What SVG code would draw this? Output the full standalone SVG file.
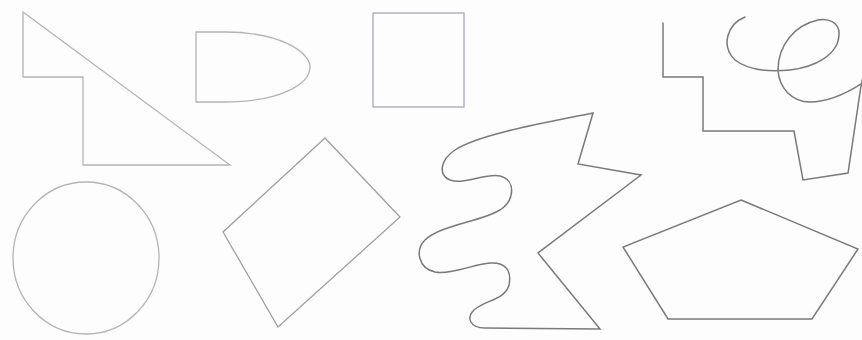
<svg xmlns="http://www.w3.org/2000/svg" width="862" height="340" viewBox="0 0 862 340">
<style>
.light{fill:none;stroke:#b4b4b4;stroke-width:1.3;stroke-linejoin:miter}
.dark{fill:none;stroke:#7a7a7a;stroke-width:1.5;stroke-linejoin:miter;stroke-linecap:round}
</style>
<rect width="862" height="340" fill="#fdfdfd"/>
<g id="step-triangle"><polygon class="light" points="23,12 23,77 83,77 83,165 230,165"/></g>
<g id="d-shape"><path class="light" d="M196,32 H225 C280,32 310,52 310,67 C310,84 280,102 225,102 H196 Z"/></g>
<g id="square"><rect class="light" x="373" y="13" width="91" height="94" style="stroke:#a8a8b4"/></g>
<g id="stair-loop">
<path class="dark" d="M663,23 V77 H703 V131 H794 L803,180 L848,173 L861,86 L866,62"/>
<path class="dark" d="M745,17 C728,24 720,45 735,60 C748,70 770,72 790,70 C815,67 838,55 839,35 C840,22 828,18 818,20 C795,25 778,45 778,70 C779,88 792,102 810,102 C830,102 850,92 870,78"/>
</g>
<g id="wave-shape"><path class="dark" d="M593,113 L578,164 L641,175 L538,253 L600,329 L485,328 C470,328 466,318 474,310 C485,300 505,300 509,285 C512,270 505,262 490,263 C475,264 450,275 435,272 C418,268 415,250 425,240 C440,225 480,222 500,210 C515,200 516,180 500,176 C485,173 465,185 450,180 C438,175 440,160 455,150 C480,133 560,120 593,113 Z"/></g>
<g id="circle"><ellipse class="light" cx="86" cy="258" rx="73" ry="76"/></g>
<g id="rotated-rect"><polygon class="light" points="325,138 400,217 278,327 223,232" style="stroke:#a0a0a0"/></g>
<g id="pentagon"><polygon class="dark" points="741,200 858,249 812,319 668,319 623,247"/></g>
</svg>
